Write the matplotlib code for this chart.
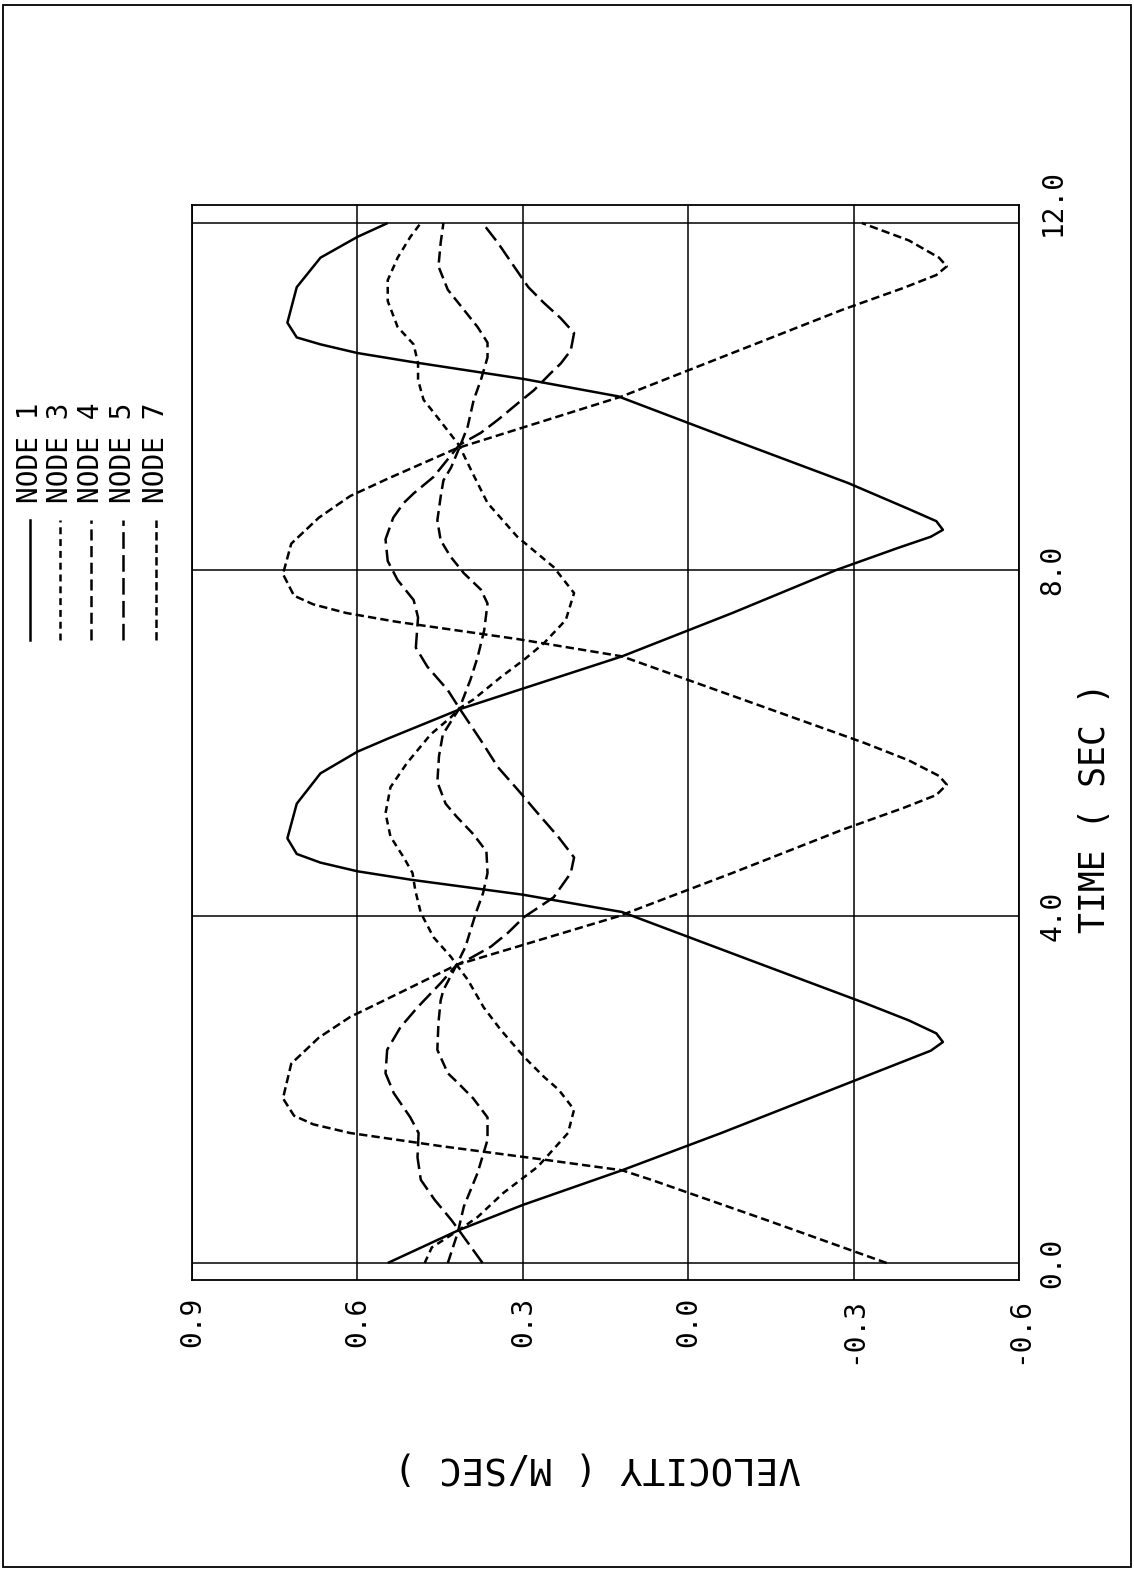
import matplotlib
matplotlib.use('Agg')
import matplotlib.pyplot as plt
from matplotlib.lines import Line2D
from matplotlib.patches import Rectangle
from matplotlib.transforms import offset_copy

W, H = 1134, 1573
plt.rcParams['lines.scale_dashes'] = False
FONT = 'DejaVu Sans Mono'

# ---- data (time in s, velocity in m/s) ----
node1_t = [0.0, 0.38, 0.67, 1.07, 1.5, 2.0, 2.3, 2.45, 2.55, 2.65, 2.8, 3.0, 3.5, 4.05, 4.25, 4.42, 4.52, 4.62, 4.72, 4.9,
           5.3, 5.65, 5.9, 6.05, 6.4, 7.0, 7.5, 8.0, 8.25, 8.38, 8.46, 8.56, 8.7, 9.0, 9.5, 10.0, 10.2, 10.4, 10.5, 10.6,
           10.68, 10.85, 11.26, 11.6, 11.84, 12.0]
node1_v = [0.545, 0.416, 0.30, 0.12, -0.06, -0.26, -0.38, -0.44, -0.462, -0.45, -0.40, -0.32, -0.11, 0.12, 0.30, 0.50,
           0.60, 0.667, 0.71, 0.727, 0.71, 0.667, 0.60, 0.545, 0.41, 0.12, -0.08, -0.27, -0.38, -0.44, -0.462, -0.45,
           -0.40, -0.29, -0.08, 0.127, 0.298, 0.504, 0.60, 0.667, 0.71, 0.727, 0.71, 0.667, 0.60, 0.545]

node3_t = [0.0, 0.18, 0.38, 0.53, 0.81, 1.11, 1.5, 1.77, 2.0, 2.15, 2.38, 2.69, 2.95, 3.27, 3.44, 3.53, 3.76, 4.04, 4.3,
           4.5, 4.68, 4.92, 5.19, 5.49, 5.77, 6.1, 6.3, 6.4, 6.5, 6.76, 6.96, 7.15, 7.42, 7.73, 8.03, 8.38, 8.77, 9.1,
           9.44, 9.76, 9.96, 10.19, 10.38, 10.6, 10.8, 11.1, 11.34, 11.6, 11.84, 12.0]
node3_v = [0.478, 0.465, 0.416, 0.382, 0.335, 0.273, 0.218, 0.207, 0.235, 0.262, 0.298, 0.34, 0.371, 0.40, 0.42, 0.43,
           0.462, 0.485, 0.495, 0.50, 0.516, 0.54, 0.549, 0.54, 0.51, 0.467, 0.43, 0.415, 0.39, 0.34, 0.298, 0.262,
           0.222, 0.207, 0.244, 0.31, 0.364, 0.39, 0.416, 0.455, 0.48, 0.49, 0.49, 0.498, 0.527, 0.545, 0.545, 0.527,
           0.504, 0.485]

node4_t = [0.0, 0.35, 0.65, 1.04, 1.42, 1.68, 1.9, 2.08, 2.19, 2.46, 2.77, 3.03, 3.15, 3.44, 3.65, 4.04, 4.27, 4.5, 4.75,
           4.95, 5.15, 5.3, 5.55, 5.85, 6.1, 6.4, 6.73, 6.99, 7.3, 7.61, 7.77, 7.96, 8.15, 8.34, 8.57, 8.84, 9.03, 9.18,
           9.44, 9.65, 9.96, 10.19, 10.45, 10.62, 10.8, 11.0, 11.23, 11.5, 11.77, 12.0]
node4_v = [0.436, 0.418, 0.407, 0.382, 0.364, 0.364, 0.39, 0.418, 0.436, 0.455, 0.453, 0.449, 0.444, 0.42, 0.404, 0.385,
           0.372, 0.364, 0.366, 0.39, 0.42, 0.44, 0.455, 0.452, 0.445, 0.415, 0.395, 0.382, 0.37, 0.364, 0.376, 0.407,
           0.431, 0.449, 0.455, 0.449, 0.444, 0.43, 0.413, 0.40, 0.389, 0.376, 0.364, 0.364, 0.382, 0.407, 0.436, 0.453,
           0.449, 0.444]

node5_t = [0.0, 0.3, 0.38, 0.5, 0.73, 0.96, 1.22, 1.5, 1.68, 1.96, 2.19, 2.46, 2.72, 2.95, 3.23, 3.44, 3.5, 3.65, 3.81,
           3.99, 4.22, 4.5, 4.68, 4.92, 5.19, 5.46, 5.72, 6.03, 6.4, 6.61, 6.88, 7.1, 7.45, 7.65, 7.88, 8.1, 8.35, 8.6,
           8.77, 8.88, 9.07, 9.44, 9.58, 9.73, 9.92, 10.07, 10.27, 10.38, 10.53, 10.73, 10.9, 11.08, 11.26, 11.5, 11.77,
           12.0]
node5_v = [0.373, 0.407, 0.416, 0.43, 0.46, 0.485, 0.491, 0.489, 0.504, 0.534, 0.549, 0.546, 0.522, 0.491, 0.449, 0.42,
           0.40, 0.358, 0.327, 0.298, 0.244, 0.213, 0.207, 0.236, 0.273, 0.309, 0.345, 0.376, 0.415, 0.436, 0.473, 0.494,
           0.49, 0.498, 0.527, 0.545, 0.549, 0.535, 0.516, 0.498, 0.462, 0.415, 0.376, 0.345, 0.309, 0.28, 0.249, 0.231,
           0.213, 0.207, 0.231, 0.262, 0.29, 0.316, 0.345, 0.373]

node7_t = [0.0, 0.5, 0.96, 1.07, 1.2, 1.35, 1.5, 1.6, 1.7, 1.9, 2.3, 2.6, 2.84, 3.05, 3.44, 4.0, 4.5, 5.0, 5.25, 5.4, 5.52,
           5.62, 5.8, 6.0, 6.5, 7.0, 7.2, 7.4, 7.5, 7.6, 7.7, 7.95, 8.3, 8.6, 8.85, 9.05, 9.4, 10.0, 10.5, 11.0, 11.25,
           11.4, 11.5, 11.6, 11.8, 12.0]
node7_v = [-0.36, -0.14, 0.067, 0.12, 0.27, 0.45, 0.613, 0.68, 0.715, 0.735, 0.72, 0.67, 0.613, 0.545, 0.42, 0.127, -0.08,
           -0.28, -0.39, -0.45, -0.469, -0.455, -0.40, -0.32, -0.10, 0.12, 0.31, 0.53, 0.62, 0.68, 0.715, 0.735, 0.72,
           0.67, 0.613, 0.545, 0.42, 0.12, -0.08, -0.28, -0.39, -0.45, -0.469, -0.455, -0.40, -0.315]

labels = ['NODE 1', 'NODE 3', 'NODE 4', 'NODE 5', 'NODE 7']
vel_ticks = [0.9, 0.6, 0.3, 0.0, -0.3, -0.6]
vel_ticklabels = ['0.9', '0.6', '0.3', '0.0', '-0.3', '-0.6']
time_ticks = [0.0, 4.0, 8.0, 12.0]
time_ticklabels = ['0.0', '4.0', '8.0', '12.0']

series = [(node1_t, node1_v), (node3_t, node3_v), (node4_t, node4_v), (node5_t, node5_v), (node7_t, node7_v)]
styles = ['-', (0, (5, 3.5)), (0, (8, 4)), (0, (12, 4.5)), (0, (6, 3))]

# ---- figure ----
fig = plt.figure(figsize=(W / 100, H / 100), dpi=100)
fig.patch.set_facecolor('white')


def fx(x):
    return x / W


def fy(y):
    return 1 - y / H


# page border
fig.add_artist(Rectangle((fx(3), fy(1567)), fx(1131) - fx(3), fy(5) - fy(1567), transform=fig.transFigure,
                         fill=False, lw=1.3, ec='black'))

ax = fig.add_axes([fx(192), fy(1280), fx(1019) - fx(192), fy(205) - fy(1280)])
ax.set_xlim(0.9, -0.6)
ax.set_ylim(-0.196, 12.208)

for (t, v), ls in zip(series, styles):
    ax.plot(v, t, color='black', lw=1.8, linestyle=ls, solid_capstyle='butt', dash_capstyle='butt')

ax.set_xticks(vel_ticks)
ax.set_xticklabels(vel_ticklabels, rotation=90, fontfamily=FONT, fontsize=20)
ax.set_yticks(time_ticks)
ax.yaxis.tick_right()
ax.set_yticklabels(time_ticklabels, rotation=90, va='center', fontfamily=FONT, fontsize=20)
ax.tick_params(axis='both', length=0)
ax.tick_params(axis='x', pad=12)
ax.tick_params(axis='y', pad=14)
ax.grid(True, color='black', lw=1.1)
for s in ax.spines.values():
    s.set_linewidth(1.3)

# the top time label sits a little above its grid line in the reference
top_lab = ax.get_yticklabels()[-1]
top_lab.set_transform(offset_copy(top_lab.get_transform(), fig=fig, x=0, y=15, units='points'))

# axis titles
fig.text(fx(1095), fy(808), 'TIME ( SEC )', rotation=90, ha='center', va='center', fontfamily=FONT, fontsize=25)
fig.text(fx(597), fy(1467), 'VELOCITY ( M/SEC )', rotation=180, ha='center', va='center', fontfamily=FONT,
         fontsize=27)

# legend (drawn as figure artists)
leg_x = [30, 60, 91, 123, 156]
for x, lab, ls in zip(leg_x, labels, styles):
    fig.add_artist(Line2D([fx(x), fx(x)], [fy(640), fy(520)], transform=fig.transFigure, color='black', lw=1.8,
                          linestyle=ls))
    fig.text(fx(x), fy(503), lab, rotation=90, ha='center', va='bottom', fontfamily=FONT, fontsize=20)

fig.savefig('out.png', dpi=100, facecolor='white')
